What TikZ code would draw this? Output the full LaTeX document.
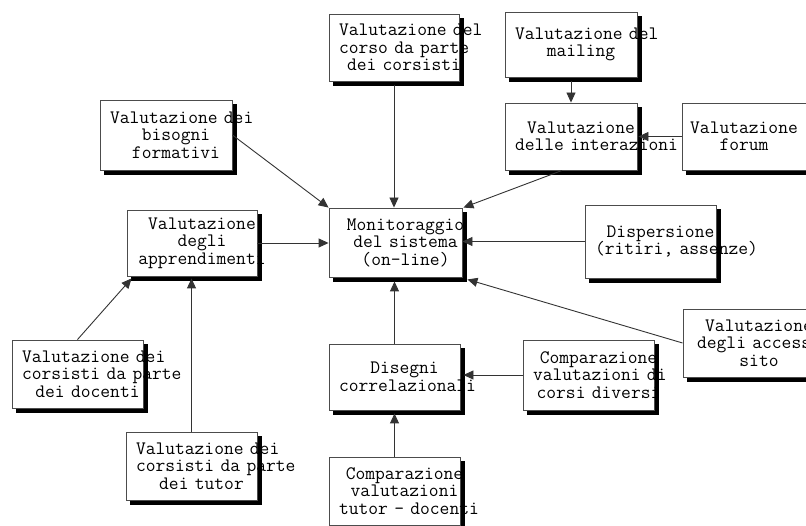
\documentclass[tikz,border=0pt]{standalone}
\usepackage{fontspec}
\usetikzlibrary{arrows.meta,calc}
\tikzset{
  boxst/.style={draw=black!70, line width=0.9pt, fill=white, rectangle, inner sep=0pt},
  txtst/.style={inner sep=0pt, align=center, font=\ttfamily\fontsize{19}{17.5}\selectfont},
  conn/.style={draw=black!80, line width=0.9pt},
  arr/.style={conn, -{Triangle[length=10pt,width=9pt]}},
  shadowst/.style={fill=black}
}
\newcommand\shd[1]{%
  \fill[shadowst] ([xshift=0.5pt,yshift=-4pt]#1.north east) rectangle ([xshift=4.5pt,yshift=-4.5pt]#1.south east);
  \fill[shadowst] ([xshift=4pt,yshift=-0.5pt]#1.south west) rectangle ([xshift=4.5pt,yshift=-4.5pt]#1.south east);}
\newcommand\bx[7][10]{%
  \node[boxst, minimum width=#5pt, minimum height=#6pt] (#2) at (#3,#4) {};
  \node[txtst, text width=#5pt] (#2T) at ([xshift=#1pt]#2.center) {#7};
  \shd{#2}}
\begin{document}
\begin{tikzpicture}[x=1pt,y=-1pt]
\useasboundingbox[fill=white] (0,0) rectangle (806,526);
\bx{corso}{394}{47.5}{130}{67}{\mbox{Valutazione del}\\\mbox{corso da parte}\\\mbox{dei corsisti}}
\bx{mail}{571}{44.5}{132}{65}{\mbox{Valutazione del}\\\mbox{mailing}}
\bx{inter}{571}{136.5}{132}{67}{\mbox{Valutazione}\\\mbox{delle interazioni}}
\bx[-4]{forum}{748}{136.5}{132}{67}{\mbox{Valutazione}\\\mbox{forum}}
\bx{bis}{166}{135}{132}{70}{\mbox{Valutazione dei}\\\mbox{bisogni}\\\mbox{formativi}}
\bx{appr}{192}{243}{130}{66}{\mbox{Valutazione}\\\mbox{degli}\\\mbox{apprendimenti}}
\bx{mon}{395.5}{242.5}{133}{69}{\mbox{Monitoraggio}\\\mbox{del sistema}\\\mbox{(on-line)}}
\bx{disp}{650.5}{241.5}{131}{73}{\mbox{Dispersione}\\\mbox{(ritiri, assenze)}}
\bx{acc}{749}{343}{132}{68}{\mbox{Valutazione}\\\mbox{degli accessi}\\\mbox{sito}}
\bx{doc}{77.5}{374}{131}{68}{\mbox{Valutazione dei}\\\mbox{corsisti da parte}\\\mbox{dei docenti}}
\bx{tut}{191.5}{466}{131}{68}{\mbox{Valutazione dei}\\\mbox{corsisti da parte}\\\mbox{dei tutor}}
\bx{dis}{394.5}{377}{131}{66}{\mbox{Disegni}\\\mbox{correlazionali}}
\bx{cdiv}{588.5}{375}{131}{70}{\mbox{Comparazione}\\\mbox{valutazioni di}\\\mbox{corsi diversi}}
\bx{cmp}{394.5}{491}{131}{68}{\mbox{Comparazione}\\\mbox{valutazioni}\\\mbox{tutor - docenti}}
% connectors
\draw[arr] ([yshift=-4pt]corso.south) -- (corso.south |- mon.north);
\draw[arr] ([yshift=-4pt]mail.south) -- (mail.south |- inter.north);
\draw[arr] (forum.west) -- ([xshift=1pt]inter.east);
\draw[arr] ([xshift=-9pt]inter.south) -- ([xshift=1pt]mon.north east);
\draw[arr] (bis.east) -- (mon.north west);
\draw[arr] (appr.east) -- (appr.east -| mon.west);
\draw[arr] (disp.west) -- (disp.west -| mon.east);
\draw[arr] (acc.west) -- ([xshift=5pt,yshift=-2pt]mon.south east);
\draw[arr] (dis.north) -- ([yshift=-4pt]dis.north |- mon.south);
\draw[arr] (cdiv.west) -- ([xshift=3pt]cdiv.west -| dis.east);
\draw[arr] (cmp.north) -- ([yshift=-3pt]dis.south);
\draw[arr] (doc.north) -- ([xshift=5pt,yshift=-2pt]appr.south west);
\draw[arr] (tut.north) -- ([yshift=-2pt]tut.north |- appr.south);
\end{tikzpicture}
\end{document}
